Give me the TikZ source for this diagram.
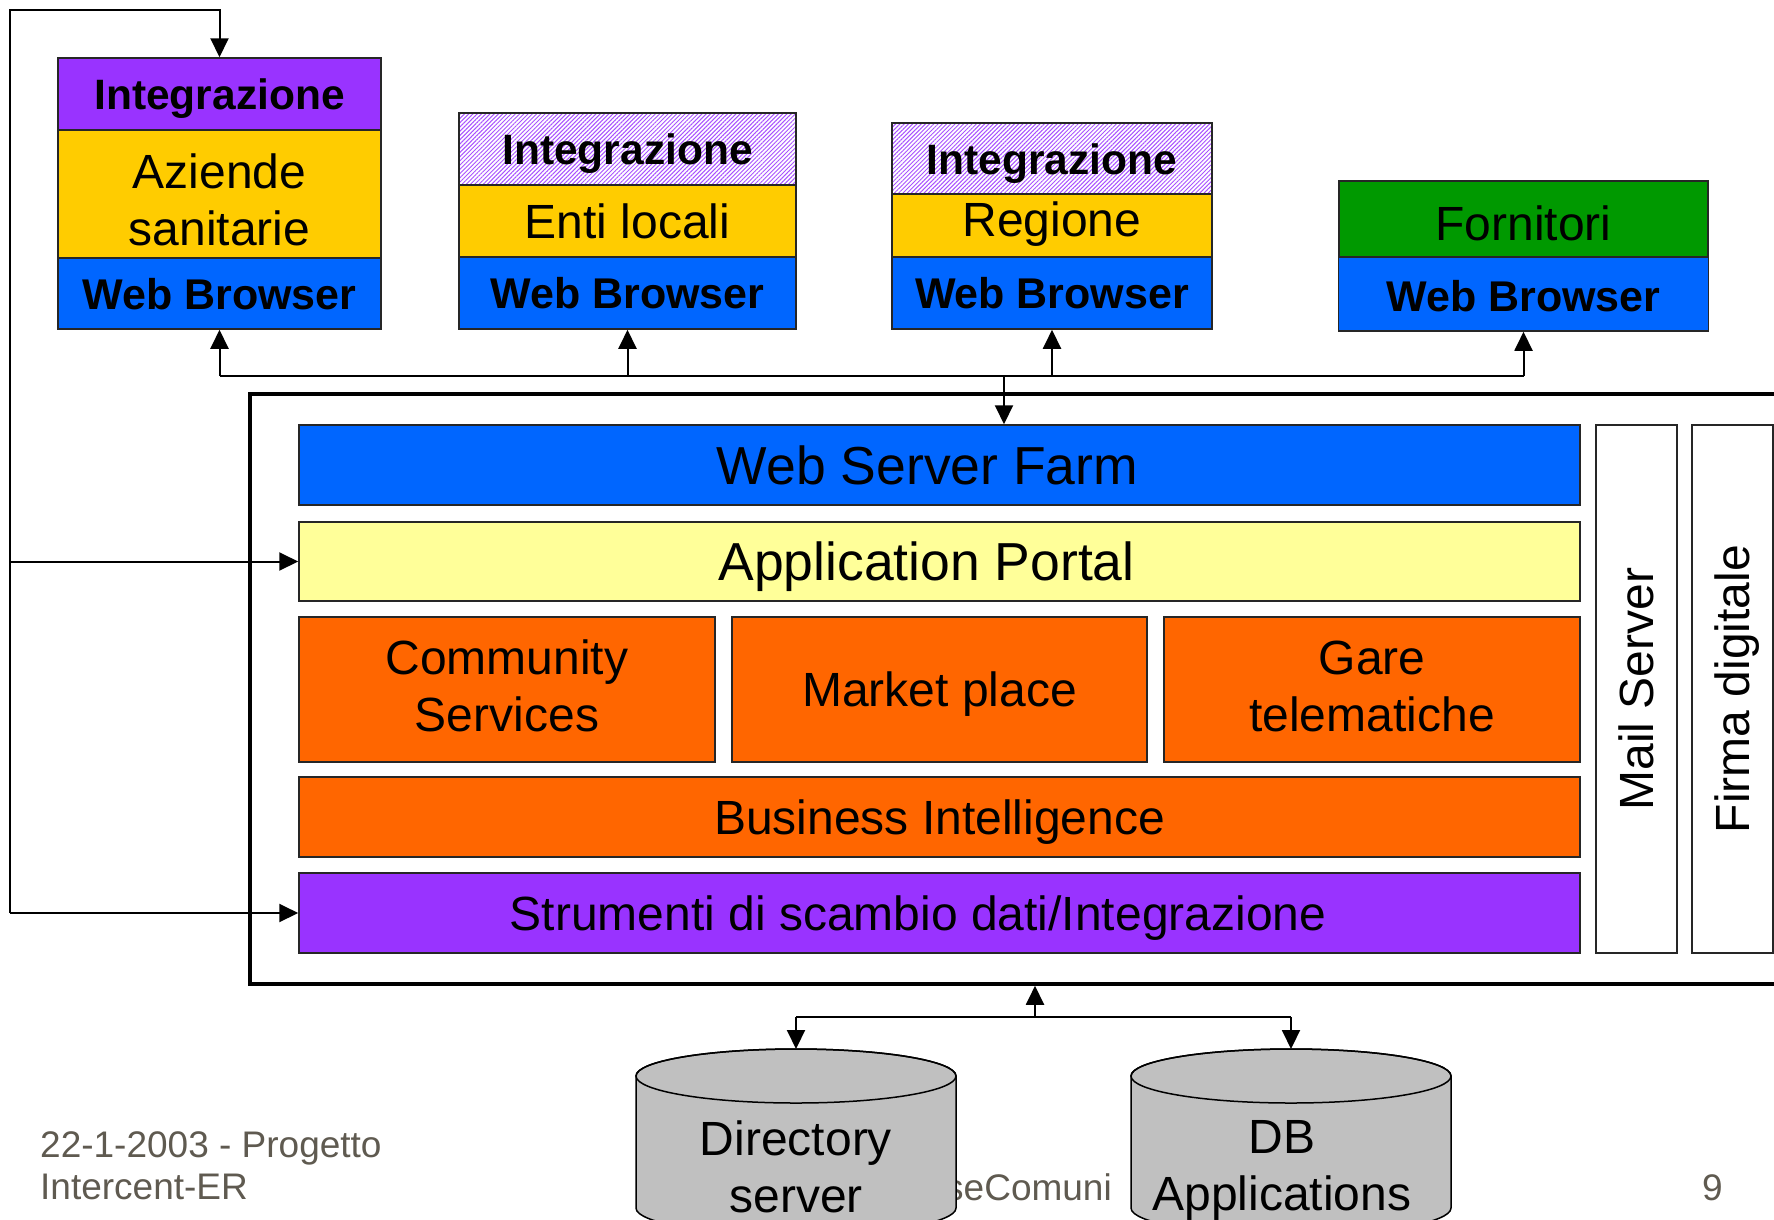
\documentclass[tikz,border=0pt]{standalone}
\usepackage{fontspec}
\setmainfont{Liberation Sans}
\usepackage{tikz}
\usetikzlibrary{arrows.meta, patterns.meta}
\definecolor{viola}{HTML}{9933FF}
\definecolor{giallo}{HTML}{FFCC00}
\definecolor{blu}{HTML}{0066FF}
\definecolor{verde}{HTML}{009900}
\definecolor{crema}{HTML}{FFFF99}
\definecolor{arancio}{HTML}{FF6600}
\definecolor{grigio}{HTML}{C0C0C0}
\definecolor{piede}{HTML}{5F5A50}

\begin{document}
\begin{tikzpicture}[x=1pt, y=-1pt,
    box/.style={draw=black!85, line width=1.5pt, rectangle, inner sep=0pt, align=center},
    cap52/.style={font=\fontsize{53.5}{64}\selectfont, text height=38.3pt, text depth=0pt},
    cap48/.style={font=\fontsize{48}{57}\selectfont, text height=34.4pt, text depth=0pt},
    two48/.style={font=\fontsize{48}{57}\selectfont, align=center},
    integ/.style={font=\bfseries\fontsize{42.5}{50}\selectfont, text height=30.5pt, text depth=0pt},
    browser/.style={box, fill=blu, font=\bfseries\fontsize{43}{51}\selectfont, text height=31pt, text depth=0pt},
    hatch/.style={pattern={Lines[angle=45, distance=3pt, line width=1pt]}, pattern color=viola!85},
    conn/.style={line width=2pt},
    arr/.style={line width=2pt, -{Triangle[length=19pt, width=18pt]}},
    foot/.style={text=piede, font=\fontsize{37}{42}\selectfont, inner sep=0pt},
    cyl/.style={fill=grigio, draw=black, line width=1.5pt}
  ]
      \useasboundingbox (0,0) rectangle (1774,1219);
      \clip (0,0) rectangle (1774,1219);

      \node [box, integ, fill=viola, minimum width=323pt, minimum height=72pt] (int1) at (219.5,94) {Integrazione};
      \node [box, two48, fill=giallo, minimum width=323pt, minimum height=128pt] (az) at (219.5,194) {\rule{0pt}{46pt}Aziende\\sanitarie};
      \node [browser, minimum width=323pt, minimum height=71pt] (wb1) at (219.5,293.5) {Web Browser};

      \node [box, integ, hatch, minimum width=337pt, minimum height=72pt] (int2) at (627.5,149) {Integrazione};
      \node [box, cap48, fill=giallo, minimum width=337pt, minimum height=72pt] (enti) at (627.5,221) {Enti locali};
      \node [browser, minimum width=337pt, minimum height=72pt] (wb2) at (627.5,293) {Web Browser};

      \node [box, integ, hatch, minimum width=320pt, minimum height=71pt, text height=32pt] (int3) at (1052,158.5) {Integrazione};
      \node [box, cap48, fill=giallo, minimum width=320pt, minimum height=63pt, text depth=13.4pt] (reg) at (1052,225.5) {Regione};
      \node [browser, minimum width=320pt, minimum height=72pt] (wb3) at (1052,293) {Web Browser};

      \node [box, cap48, fill=verde, minimum width=369pt, minimum height=76pt, text height=42pt] (forn) at (1523.5,219) {Fornitori};
      \node [browser, minimum width=370pt, minimum height=74pt, text height=34pt] (wb4) at (1523.5,294) {Web Browser};

      \node [draw, line width=3.5pt, minimum width=1540pt, minimum height=590pt] (core) at (1020,689) {};
      \node [box, cap52, fill=blu, minimum width=1281pt, minimum height=80pt] (wsf) at (939.5,465) {Web Server Farm\hspace{24pt}};
      \node [box, cap52, fill=crema, minimum width=1281pt, minimum height=79pt] (portal) at (939.5,561.5) {Application Portal\hspace{26pt}};
      \node [box, two48, fill=arancio, minimum width=416pt, minimum height=145pt] (comm) at (507,689.5) {Community\\Services\rule[-7pt]{0pt}{0pt}};
      \node [box, cap48, fill=arancio, minimum width=415pt, minimum height=145pt] (mkt) at (939.5,689.5) {Market place};
      \node [box, two48, fill=arancio, minimum width=416pt, minimum height=145pt] (gare) at (1372,689.5) {Gare\\telematiche\rule[-7pt]{0pt}{0pt}};
      \node [box, cap48, fill=arancio, minimum width=1281pt, minimum height=80pt] (bi) at (939.5,817) {Business Intelligence};
      \node [box, cap48, fill=viola, minimum width=1281pt, minimum height=80pt] (sdi) at (939.5,913) {Strumenti di scambio dati/Integrazione\hspace{43pt}};
      \node [box, cap48, fill=white, rotate=90, minimum width=528pt, minimum height=81pt] (mail) at (1636.5,689) {Mail Server};
      \node [box, cap48, fill=white, rotate=90, minimum width=528pt, minimum height=81pt] (firma) at (1732.5,689) {Firma digitale};

      \coordinate (bus) at (0,376);
      \coordinate (hub) at (1004,376);
      \draw [conn] (bus -| wb1.south) -- (bus -| wb4.south);
      \foreach \b in {wb1, wb2, wb3, wb4}
        \draw [arr] (bus -| \b.south) -- (\b.south);
      \draw [arr] (hub) -- (hub |- wsf.north);

      \coordinate (loop) at (10,10);
      \draw [arr] (loop |- sdi.west) -- (loop) -- (loop -| int1.north) -- (int1.north);
      \draw [arr] (loop |- portal.west) -- (portal.west);
      \draw [arr] (loop |- sdi.west) -- (sdi.west);

      \node [foot, anchor=north west, align=left] (data) at (40,1131) {22-1-2003 - Progetto\\Intercent-ER};
      \node [foot, anchor=base east] (sito) at (1112,1200) {seComuni};
      \node [foot, anchor=base east] (pag) at (1723,1200) {9};

      \filldraw [cyl] (636,1076) -- (636,1208) arc [start angle=180, end angle=360, x radius=160pt, y radius=27pt] -- (956,1076) arc [start angle=0, end angle=180, x radius=160pt, y radius=27pt] -- cycle;
      \draw [cyl, fill=none] (796,1076) ellipse [x radius=160pt, y radius=27pt];
      \node [two48] (dir) at (796,1167) {Directory\\server};
      \filldraw [cyl] (1131,1076) -- (1131,1208) arc [start angle=180, end angle=360, x radius=160pt, y radius=27pt] -- (1451,1076) arc [start angle=0, end angle=180, x radius=160pt, y radius=27pt] -- cycle;
      \draw [cyl, fill=none] (1291,1076) ellipse [x radius=160pt, y radius=27pt];
      \node [two48] (dbapp) at (1282,1170) {DB\\Applications};

      \coordinate (dbbus) at (1035,1017);
      \coordinate (dirtop) at (796,1049);
      \coordinate (apptop) at (1291,1049);
      \draw [arr] (dbbus) -- (dbbus |- core.south);
      \draw [conn] (dbbus -| dirtop) -- (dbbus -| apptop);
      \draw [arr] (dbbus -| dirtop) -- (dirtop);
      \draw [arr] (dbbus -| apptop) -- (apptop);
    \end{tikzpicture}
\end{document}
